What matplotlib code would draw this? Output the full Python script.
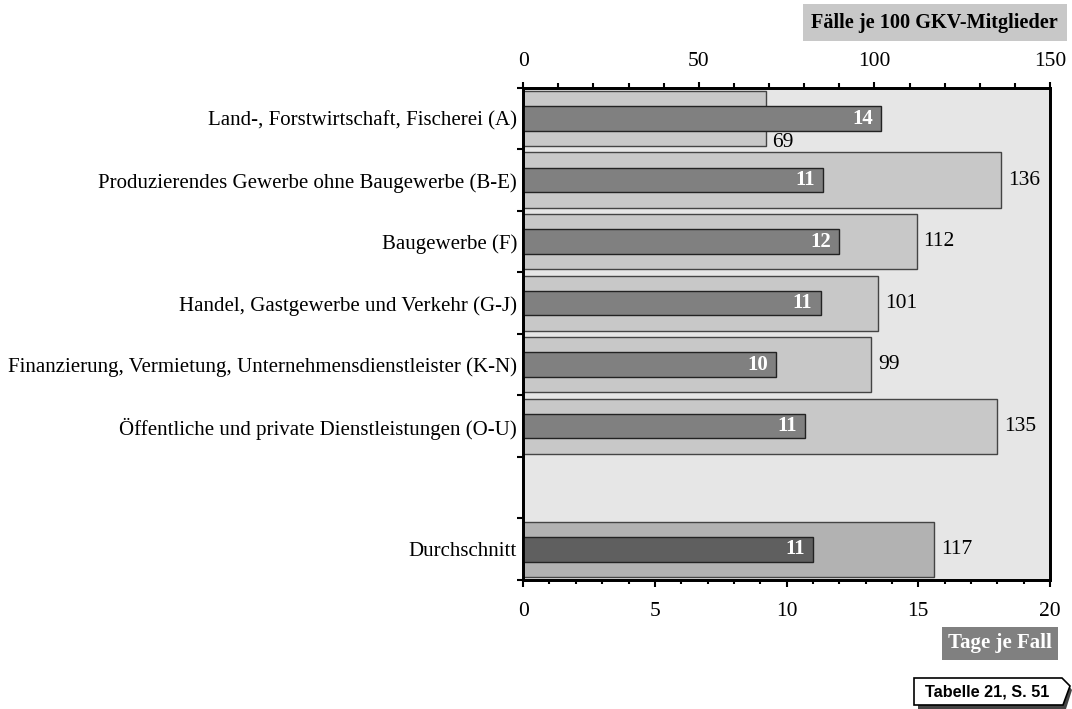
import matplotlib.pyplot as plt
from matplotlib.patches import Polygon
from matplotlib.ticker import MultipleLocator, FixedLocator, NullFormatter

plt.rcParams['font.family'] = ['Liberation Serif', 'DejaVu Serif']

categories = ["Land-, Forstwirtschaft, Fischerei (A)",
              "Produzierendes Gewerbe ohne Baugewerbe (B-E)",
              "Baugewerbe (F)",
              "Handel, Gastgewerbe und Verkehr (G-J)",
              "Finanzierung, Vermietung, Unternehmensdienstleister (K-N)",
              "Öffentliche und private Dienstleistungen (O-U)",
              "Durchschnitt"]
cases = [69, 136, 112, 101, 99, 135, 117]       # Fälle je 100 GKV-Mitglieder
days = [13.6, 11.4, 12.0, 11.3, 9.6, 10.7, 11.0]  # Tage je Fall
day_labels = ["14", "11", "12", "11", "10", "11", "11"]
ypos = [0, 1, 2, 3, 4, 5, 7]

fig = plt.figure(figsize=(10.72, 7.09), dpi=100)
ax = fig.add_axes([0.488, 0.182, 0.4915, 0.694])
ax.set_facecolor('#e6e6e6')

light = ['#c8c8c8'] * 6 + ['#b2b2b2']
dark = ['#808080'] * 6 + ['#5f5f5f']

ax.barh(ypos, cases, height=0.9, color=light, edgecolor='#444444', linewidth=1)
ax.set_xlim(0, 150)
ax.set_ylim(7.5, -0.5)

axd = ax.twiny()
axd.barh(ypos, days, height=0.4, color=dark, edgecolor='#222222', linewidth=1)
axd.set_xlim(0, 20)

# top axis = cases, bottom axis = days
ax.xaxis.set_ticks_position('top')
ax.xaxis.set_label_position('top')
axd.xaxis.set_ticks_position('bottom')
axd.xaxis.set_label_position('bottom')

ax.xaxis.set_major_locator(MultipleLocator(50))
ax.xaxis.set_minor_locator(MultipleLocator(10))
axd.xaxis.set_major_locator(MultipleLocator(5))
axd.xaxis.set_minor_locator(MultipleLocator(1))

ax.tick_params(axis='x', which='major', direction='out', length=4, width=1.5, pad=8, labelsize=15.5)
ax.tick_params(axis='x', which='minor', direction='out', length=3.5, width=1.5)
axd.tick_params(axis='x', which='major', direction='out', length=5, width=1.5, pad=11, labelsize=15.5)
axd.tick_params(axis='x', which='minor', direction='out', length=3, width=1.5)

# y: tick marks at category boundaries, labels at centres
ax.yaxis.set_major_locator(FixedLocator([-0.5 + i for i in range(9)]))
ax.yaxis.set_major_formatter(NullFormatter())
ax.yaxis.set_minor_locator(FixedLocator(ypos))
ax.set_yticklabels(categories, minor=True)
ax.tick_params(axis='y', which='major', direction='out', length=4.5, width=1.5)
ax.tick_params(axis='y', which='minor', length=0, pad=4.5, labelsize=15)

for a in (ax, axd):
    for s in a.spines.values():
        s.set_linewidth(2)
        s.set_color('black')

# value labels
for i, (y, c) in enumerate(zip(ypos, cases)):
    dy = 0.38 if i == 0 else 0
    ax.annotate(str(c), (c, y + dy), xytext=(5, 0), textcoords='offset points',
                ha='left', va='center', fontsize=15.5)
for y, d, lab in zip(ypos, days, day_labels):
    axd.annotate(lab, (d, y), xytext=(-6, 0), textcoords='offset points',
                 ha='right', va='center', fontsize=15, color='white', fontweight='bold')

fig.text(0.987, 0.9676, "Fälle je 100 GKV-Mitglieder", ha='right', va='center',
         fontsize=14.6, fontweight='bold',
         bbox=dict(boxstyle='square,pad=0.42', fc='#c8c8c8', ec='none'))
fig.text(0.9815, 0.0925, "Tage je Fall", ha='right', va='center',
         fontsize=15, fontweight='bold', color='white',
         bbox=dict(boxstyle='square,pad=0.3', fc='#808080', ec='none'))

# "Tabelle" tab
W, H = 1072.0, 709.0
def fpts(pts):
    return [(x / W, 1 - y / H) for x, y in pts]
shadow = Polygon(fpts([(918, 682), (1066, 682), (1072, 690), (1066, 709), (918, 709)]),
                 closed=True, fc='#444444', ec='none', transform=fig.transFigure)
tab = Polygon(fpts([(914, 678), (1062, 678), (1070, 686), (1063, 705), (914, 705)]),
              closed=True, fc='white', ec='black', lw=1.2, transform=fig.transFigure)
fig.patches.extend([shadow, tab])
fig.text(987 / W, 1 - 692 / H, "Tabelle 21, S. 51", ha='center', va='center',
         fontsize=11.7, fontweight='bold', family=['Liberation Sans', 'DejaVu Sans'])

fig.savefig('out.png', dpi=100)
